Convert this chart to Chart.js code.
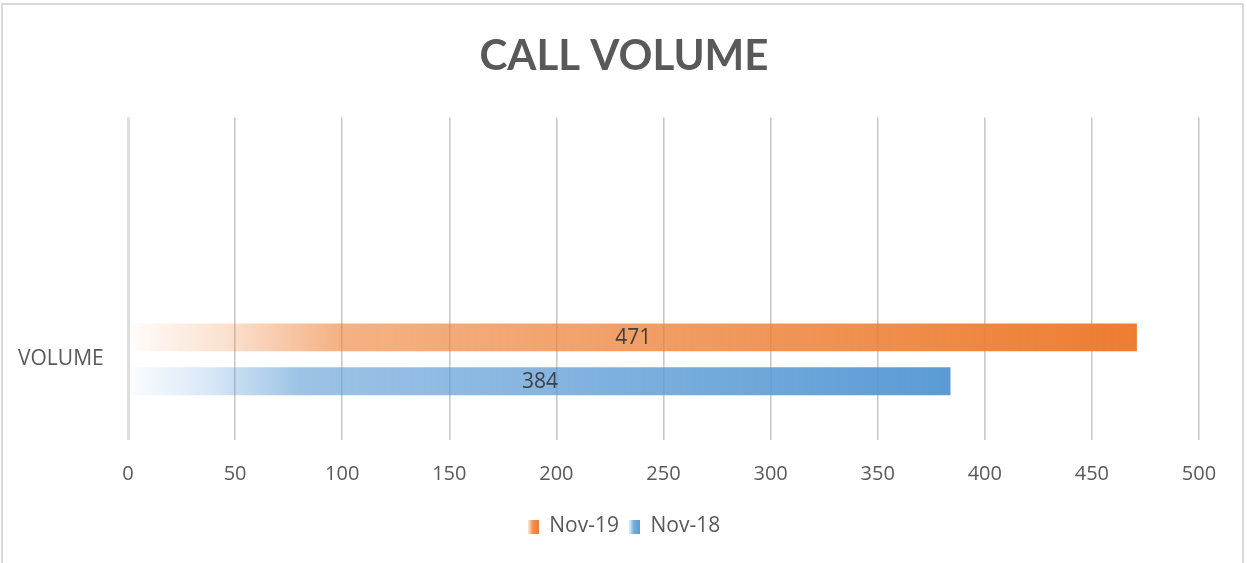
<!DOCTYPE html>
<html>
<head>
<meta charset="utf-8">
<script src="https://cdn.jsdelivr.net/npm/chart.js@4.4.0/dist/chart.umd.min.js"></script>
<style>
  html, body { margin: 0; padding: 0; background: #fff; }
  #wrap { position: relative; width: 1247px; height: 563px; }
  #frame { position: absolute; left: 1px; top: 3px; width: 1243px; height: 570px; border: 2px solid #d9d9d9; box-sizing: border-box; pointer-events: none; }
  canvas { position: absolute; left: 0; top: 0; }
</style>
</head>
<body>
<div id="wrap">
  <canvas id="myChart" width="1247" height="563"></canvas>
  <div id="frame"></div>
</div>
<script>
// categories (Excel leaves an empty slot above the real one)
var categories = ['', 'VOLUME']
var series_names = ['Nov-19', 'Nov-18']
var nov19 = [null, 471]
var nov18 = [null, 384]
var tick_values = [0, 50, 100, 150, 200, 250, 300, 350, 400, 450, 500]

var colors = {
    'Nov-19': [237, 125, 49],
    'Nov-18': [91, 155, 213]
}

function rgba(c, a){
    return 'rgba(' + c[0] + ',' + c[1] + ',' + c[2] + ',' + a + ')'
}

function addStops(g, c){
    g.addColorStop(0, rgba(c, 0.02))
    g.addColorStop(0.1, rgba(c, 0.24))
    g.addColorStop(0.21, rgba(c, 0.6))
    g.addColorStop(0.5, rgba(c, 0.74))
    g.addColorStop(1, rgba(c, 1))
    return g
}

function barGradient(context){
    var chart = context.chart
    var c = colors[context.dataset.label]
    if (!chart.chartArea || context.raw == null) return rgba(c, 1)
    var x = chart.scales.x
    var x0 = x.getPixelForValue(0)
    var x1 = x.getPixelForValue(context.raw)
    return addStops(chart.ctx.createLinearGradient(x0, 0, x1, 0), c)
}

function legendSwatch(c){
    var cv = document.createElement('canvas')
    cv.width = 11
    cv.height = 14
    var g = cv.getContext('2d')
    var grad = g.createLinearGradient(0, 0, 11, 0)
    grad.addColorStop(0, rgba(c, 0.15))
    grad.addColorStop(0.45, rgba(c, 0.85))
    grad.addColorStop(1, rgba(c, 1))
    g.fillStyle = grad
    g.fillRect(0, 0, 11, 14)
    return cv
}

// draws the value in the middle of each bar
var barValues = {
    id: 'barValues',
    afterDatasetsDraw(chart){
        var ctx = chart.ctx
        ctx.save()
        ctx.font = '21px "Open Sans", sans-serif'
        ctx.fillStyle = '#404040'
        ctx.textAlign = 'center'
        ctx.textBaseline = 'middle'
        chart.data.datasets.forEach(function(ds, i){
            chart.getDatasetMeta(i).data.forEach(function(bar, j){
                if (ds.data[j] == null) return
                ctx.fillText(ds.data[j], (bar.x + bar.base) / 2, bar.y + 1)
            })
        })
        ctx.restore()
    }
}

var ctx = document.getElementById('myChart').getContext('2d')
var myChart = new Chart(ctx, {
    type: 'bar',
    plugins: [barValues],
    data: {
        labels: categories,
        datasets: [{
            label: series_names[0],
            data: nov19,
            backgroundColor: barGradient,
            categoryPercentage: 0.545,
            barPercentage: 0.636
        }, {
            label: series_names[1],
            data: nov18,
            backgroundColor: barGradient,
            categoryPercentage: 0.545,
            barPercentage: 0.636
        }]
    },
    options: {
        indexAxis: 'y',
        responsive: false,
        animation: false,
        layout: { padding: { left: 18, right: 17, top: 0, bottom: 16 } },
        scales: {
            x: {
                min: 0,
                max: 500,
                afterBuildTicks: function(axis){
                    axis.ticks = tick_values.map(function(v){ return { value: v } })
                },
                afterFit: function(axis){ axis.height = 66 },
                grid: {
                    drawTicks: false,
                    lineWidth: function(c){ return c.index === 0 ? 3 : 1.6 },
                    color: function(c){ return c.index === 0 ? '#dedede' : '#c9c9c9' }
                },
                border: { display: false },
                ticks: {
                    padding: 22,
                    color: '#595959',
                    font: { family: '"Open Sans", sans-serif', size: 20 }
                }
            },
            y: {
                afterFit: function(axis){ axis.width = 110 },
                grid: { display: false },
                border: { display: false },
                ticks: {
                    crossAlign: 'far',
                    padding: 0,
                    color: '#595959',
                    font: { family: '"Open Sans", sans-serif', size: 21 }
                }
            },
            // empty right-hand spacer so the plot ends where Excel's does
            yRight: {
                type: 'linear',
                position: 'right',
                min: 0,
                max: 1,
                afterFit: function(axis){ axis.width = 31 },
                grid: { display: false },
                border: { display: false },
                ticks: { display: false }
            }
        },
        plugins: {
            title: {
                display: true,
                text: 'CALL VOLUME',
                color: '#595959',
                font: { family: 'Lato, sans-serif', size: 42, weight: 'bold' },
                padding: { top: 31, bottom: 36 }
            },
            legend: {
                position: 'bottom',
                labels: {
                    color: '#595959',
                    font: { family: '"Open Sans", sans-serif', size: 21 },
                    boxWidth: 11,
                    boxHeight: 14,
                    padding: 10,
                    usePointStyle: true,
                    pointStyleWidth: 11,
                    generateLabels: function(chart){
                        return chart.data.datasets.map(function(ds, i){
                            return {
                                text: ds.label,
                                fontColor: '#595959',
                                pointStyle: legendSwatch(colors[ds.label]),
                                datasetIndex: i,
                                hidden: false,
                                lineWidth: 0
                            }
                        })
                    }
                }
            },
            tooltip: { enabled: false }
        }
    }
})
</script>
</body>
</html>
